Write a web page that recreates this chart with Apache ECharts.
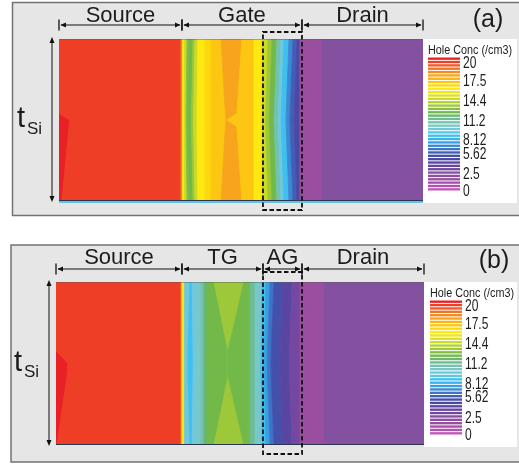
<!DOCTYPE html>
<html><head><meta charset="utf-8">
<script src="https://cdn.jsdelivr.net/npm/echarts@6/dist/echarts.min.js"></script>
<style>html,body{margin:0;padding:0;background:#fff}#c{width:519px;height:464px}</style>
</head><body><div id="c"></div>
<script>
// ===== DATA =====
// contour levels (index into the colour scale, 0 = lowest, 39 = highest)
// vertical sample rows of the channel (1 = top surface, 0 = bottom)
const rowsA = [1, 0.54, 0.5, 0.46, 0];
const rowsB = [1, 0.58, 0.5, 0.42, 0];

// panel (a): level of each contour band, left to right
const levelsA = [39, 38, 35, 30, 27, 24, 23, 25, 27, 30, 31, 32, 34, 32, 30, 27, 25, 23, 20, 18, 16, 13, 11, 9, 3, 5];
// panel (a): right boundary (nm) of each band at each row
const boundsA = [
  [0, 0, 1.81, 1.65, 0.49],
  [20.11, 20.11, 20.11, 20.11, 20.11],
  [20.36, 20.36, 20.36, 20.36, 20.36],
  [20.69, 20.69, 20.69, 20.69, 20.69],
  [21.10, 20.95, 20.95, 20.95, 21.10],
  [21.43, 21.18, 21.18, 21.18, 21.43],
  [22.09, 21.84, 21.84, 21.84, 22.09],
  [22.42, 22.20, 22.20, 22.20, 22.42],
  [22.91, 22.75, 22.75, 22.75, 22.91],
  [24.06, 24.06, 24.06, 24.06, 24.06],
  [25.05, 25.05, 25.05, 25.05, 25.05],
  [26.70, 27.44, 27.53, 27.44, 26.70],
  [30.15, 29.33, 27.69, 29.33, 30.15],
  [32.14, 32.14, 32.14, 32.14, 32.14],
  [33.46, 33.46, 33.46, 33.46, 33.46],
  [34.45, 34.10, 34.00, 34.10, 34.45],
  [35.11, 34.70, 34.62, 34.70, 35.11],
  [35.93, 35.50, 35.44, 35.50, 35.93],
  [36.59, 36.15, 36.10, 36.15, 36.59],
  [37.09, 36.65, 36.60, 36.65, 37.09],
  [37.91, 37.45, 37.42, 37.45, 37.91],
  [38.57, 38.10, 38.08, 38.10, 38.57],
  [39.23, 38.80, 38.74, 38.80, 39.23],
  [39.72, 39.72, 39.72, 39.72, 39.72],
  [43.35, 43.35, 43.35, 43.35, 43.35],
  [60, 60, 60, 60, 60]
];

// panel (b)
const levelsB = [39, 38, 35, 30, 18, 16, 18, 19, 20, 22, 23, 25, 23, 21, 19, 18, 16, 14, 12, 10, 8, 6, 3, 5];
const boundsB = [
  [0, 0, 1.96, 1.79, 0.16],
  [20.38, 20.38, 20.38, 20.38, 20.38],
  [20.54, 20.54, 20.54, 20.54, 20.54],
  [20.95, 20.95, 20.95, 20.95, 20.95],
  [21.85, 21.52, 21.52, 21.52, 21.85],
  [22.18, 22.34, 22.34, 22.34, 22.18],
  [22.99, 22.99, 22.99, 22.99, 22.99],
  [23.64, 23.64, 23.64, 23.64, 23.64],
  [24.13, 24.13, 24.13, 24.13, 24.13],
  [24.62, 24.62, 24.62, 24.62, 24.62],
  [25.76, 28.05, 28.05, 28.05, 25.76],
  [30.65, 28.05, 28.05, 28.05, 30.65],
  [31.63, 31.63, 31.63, 31.63, 31.63],
  [32.45, 32.45, 32.45, 32.45, 32.45],
  [33.26, 33.26, 33.26, 33.26, 33.26],
  [33.59, 33.40, 33.40, 33.40, 33.59],
  [34.24, 34.00, 34.00, 34.00, 34.24],
  [34.89, 34.50, 34.45, 34.50, 34.89],
  [35.54, 35.10, 35.05, 35.10, 35.54],
  [37.01, 36.55, 36.50, 36.55, 37.01],
  [38.48, 38.10, 38.05, 38.10, 38.48],
  [39.78, 39.78, 39.78, 39.78, 39.78],
  [43.70, 43.70, 43.70, 43.70, 43.70],
  [60, 60, 60, 60, 60]
];

// device regions (nm)
const regionNamesA = ['Source', 'Gate', 'Drain'];
const regionEdgesA = [0, 20.27, 40.05, 60];
const regionNamesB = ['Source', 'TG', 'AG', 'Drain'];
const regionEdgesB = [0, 20.54, 33.75, 40.11, 60];
const boxA = [33.62, 40.05];
const boxB = [33.75, 40.11];

// colour-bar stripes and labels
const legendLevels = [0,1,2,3,4,5,6,7,8,9,10,11,12,13,14,15,16,17,18,19,20,21,22,23,24,25,26,27,28,29,30,31,32,33,34,35,36,37,38,39];
const legendLabels = ['20', '17.5', '14.4', '11.2', '8.12', '5.62', '2.5', '0'];
const legendLabelPos = [37.9, 32.7, 26.8, 20.8, 15.0, 11.0, 4.8, -0.2];
const legendTitle = 'Hole Conc (/cm3)';

// ===== STYLE =====
const palette = ['#c058b8','#b252b0','#a650ac','#9a4e9f','#8e4ea2','#8450a0','#7448a0','#6646a0','#5846a2','#4c48a6',
  '#4450aa','#4060b6','#3e74c6','#3c88d4','#3a9ee2','#38b2ec','#3ec0f0','#5cc6e6','#70c8da','#78c8c8',
  '#72c2b0','#6cbc94','#68b670','#72b94a','#84c040','#9cc83a','#b4d030','#ccda26','#dce020','#eee61a',
  '#fde910','#fed80c','#fcc612','#fab418','#f8a41c','#f48c22','#f27228','#f05a2a','#ee3e26','#ea2027'];
const FONT = '"Liberation Sans", Arial, sans-serif';

function bandData(levels, bounds) {
  return levels.map((lv, i) => [lv].concat(i ? bounds[i - 1] : [0, 0, 0, 0, 0], bounds[i]));
}
function bandRender(rows) {
  return function (params, api) {
    const pts = [];
    for (let k = 0; k < 5; k++) pts.push(api.coord([api.value(6 + k), rows[k]]));
    for (let k = 4; k >= 0; k--) pts.push(api.coord([api.value(1 + k), rows[k]]));
    const c = palette[api.value(0)];
    return { type: 'polygon', shape: { points: pts }, style: { fill: c, stroke: c, lineWidth: 0.8 } };
  };
}
function regionData(edges) {
  const d = [];
  for (let i = 0; i < edges.length - 1; i++) d.push([edges[i], edges[i + 1], i]);
  return d;
}
function regionRender(names, arrowGap, labelGap) {
  return function (params, api) {
    const a = api.coord([api.value(0), 1]);
    const b = api.coord([api.value(1), 1]);
    const y = a[1] - arrowGap, x0 = a[0], x1 = b[0];
    const st = { stroke: '#111', lineWidth: 1 };
    return {
      type: 'group', children: [
        { type: 'line', shape: { x1: x0 + 2, y1: y, x2: x1 - 2, y2: y }, style: st },
        { type: 'line', shape: { x1: x0, y1: y - 5.5, x2: x0, y2: y + 5.5 }, style: { stroke: '#111', lineWidth: 1.3 } },
        { type: 'line', shape: { x1: x1, y1: y - 5.5, x2: x1, y2: y + 5.5 }, style: { stroke: '#111', lineWidth: 1.3 } },
        { type: 'polygon', shape: { points: [[x0 + 1.5, y], [x0 + 7, y - 2.6], [x0 + 7, y + 2.6]] }, style: { fill: '#111' } },
        { type: 'polygon', shape: { points: [[x1 - 1.5, y], [x1 - 7, y - 2.6], [x1 - 7, y + 2.6]] }, style: { fill: '#111' } },
        { type: 'text', style: { text: names[api.value(2)], x: (x0 + x1) / 2, y: a[1] - labelGap, align: 'center', verticalAlign: 'middle', font: '22px ' + FONT, fill: '#1c1c1c' } }
      ]
    };
  };
}
function boxRender(above, below) {
  return function (params, api) {
    const p0 = api.coord([api.value(0), 1]);
    const p1 = api.coord([api.value(1), 0]);
    return { type: 'rect', shape: { x: p0[0], y: p0[1] - above, width: p1[0] - p0[0], height: p1[1] - p0[1] + above + below },
      style: { fill: 'none', stroke: '#111', lineWidth: 1.8, lineDash: [4.5, 2.5] }, z2: 50 };
  };
}
function sideRender(bottomColor) {
  return function (params, api) {
    const p0 = api.coord([0, 1]);
    const p1 = api.coord([0, 0]);
    const pr = api.coord([60, 0]);
    const x = p0[0] - 7;
    const y0 = p0[1] - 2, y1 = p1[1] + 1;
    const mid = (p0[1] + p1[1]) / 2;
    const kids = [
      { type: 'line', shape: { x1: x, y1: y0 + 2, x2: x, y2: y1 - 2 }, style: { stroke: '#111', lineWidth: 1 } },
      { type: 'polygon', shape: { points: [[x, y0], [x - 2.5, y0 + 6], [x + 2.5, y0 + 6]] }, style: { fill: '#111' } },
      { type: 'polygon', shape: { points: [[x, y1], [x - 2.5, y1 - 6], [x + 2.5, y1 - 6]] }, style: { fill: '#111' } },
      { type: 'text', style: { text: 't', x: p0[0] - 42, y: mid - 1, align: 'left', verticalAlign: 'middle', font: '29px ' + FONT, fill: '#1c1c1c' } },
      { type: 'text', style: { text: 'Si', x: p0[0] - 32, y: mid + 9, align: 'left', verticalAlign: 'middle', font: '17px ' + FONT, fill: '#1c1c1c' } },
      { type: 'line', shape: { x1: p0[0], y1: p0[1] + 0.5, x2: pr[0], y2: p0[1] + 0.5 }, style: { stroke: 'rgba(90,90,90,0.45)', lineWidth: 1 } },
      { type: 'line', shape: { x1: p0[0], y1: p1[1] - 0.5, x2: pr[0], y2: p1[1] - 0.5 }, style: { stroke: '#2a3550', lineWidth: 1 } }
    ];
    if (bottomColor) kids.push({ type: 'line', shape: { x1: p0[0], y1: p1[1] + 1, x2: pr[0], y2: p1[1] + 1 }, style: { stroke: bottomColor, lineWidth: 1.6 } });
    return { type: 'group', children: kids };
  };
}
function stripeRender(params, api) {
  const lv = api.value(0);
  const a = api.coord([0, lv + 1]);
  const b = api.coord([1, lv]);
  return { type: 'rect', shape: { x: a[0], y: a[1] + 0.5, width: b[0] - a[0], height: b[1] - a[1] - 1 }, style: { fill: palette[lv] } };
}
function labelRender(params, api) {
  const p = api.coord([1, api.value(0)]);
  return { type: 'text', x: p[0] + 3, y: p[1], scaleX: 0.75,
    style: { text: legendLabels[api.value(1)], x: 0, y: 0, align: 'left', verticalAlign: 'middle', font: '16px ' + FONT, fill: '#1c1c1c' } };
}
function legendTitleRender(params, api) {
  const p = api.coord([0, 40]);
  return { type: 'text', x: p[0], y: p[1] - 7, scaleX: 0.8,
    style: { text: legendTitle, x: 0, y: 0, align: 'left', verticalAlign: 'middle', font: '13.5px ' + FONT, fill: '#1c1c1c' } };
}

const chart = echarts.init(document.getElementById('c'), null, { width: 519, height: 464, renderer: 'canvas' });
const ax = (idx, min, max) => ({ type: 'value', gridIndex: idx, min, max, show: false });
const labelData = legendLabelPos.map((p, i) => [p, i]);

chart.setOption({
  animation: false,
  backgroundColor: '#fff',
  grid: [
    { left: 59, top: 39, width: 364, height: 162 },
    { left: 428, top: 57, width: 32, height: 134 },
    { left: 56, top: 282, width: 368, height: 163 },
    { left: 430, top: 300, width: 32, height: 135 }
  ],
  xAxis: [ax(0, 0, 60), ax(1, 0, 1), ax(2, 0, 60), ax(3, 0, 1)],
  yAxis: [ax(0, 0, 1), ax(1, 0, 40), ax(2, 0, 1), ax(3, 0, 40)],
  graphic: [
    { type: 'rect', z: 0, shape: { x: 12.5, y: 2.5, width: 520, height: 213 }, style: { fill: '#e6e6e6', stroke: '#737373', lineWidth: 1.5 } },
    { type: 'rect', z: 0, shape: { x: 11, y: 245, width: 520, height: 217 }, style: { fill: '#e6e6e6', stroke: '#737373', lineWidth: 1.5 } },
    { type: 'rect', z: 1, shape: { x: 423, y: 39, width: 94, height: 164 }, style: { fill: '#fff' } },
    { type: 'rect', z: 1, shape: { x: 424, y: 282, width: 93, height: 165 }, style: { fill: '#fff' } },
    { type: 'text', z: 100, style: { text: '(a)', x: 488, y: 20, align: 'center', verticalAlign: 'middle', font: '25px ' + FONT, fill: '#1c1c1c' } },
    { type: 'text', z: 100, style: { text: '(b)', x: 494, y: 261, align: 'center', verticalAlign: 'middle', font: '25px ' + FONT, fill: '#1c1c1c' } }
  ],
  series: [
    { type: 'custom', xAxisIndex: 0, yAxisIndex: 0, data: bandData(levelsA, boundsA), renderItem: bandRender(rowsA), clip: true, silent: true },
    { type: 'custom', xAxisIndex: 0, yAxisIndex: 0, data: regionData(regionEdgesA), renderItem: regionRender(regionNamesA, 14, 23), clip: false, silent: true, z: 5 },
    { type: 'custom', xAxisIndex: 0, yAxisIndex: 0, data: [[0]], renderItem: sideRender('#3ab6e6'), clip: false, silent: true, z: 4 },
    { type: 'custom', xAxisIndex: 0, yAxisIndex: 0, data: [boxA], renderItem: boxRender(7, 9), clip: false, silent: true, z: 6 },
    { type: 'custom', xAxisIndex: 1, yAxisIndex: 1, data: legendLevels.map(v => [v]), renderItem: stripeRender, clip: false, silent: true },
    { type: 'custom', xAxisIndex: 1, yAxisIndex: 1, data: labelData, renderItem: labelRender, clip: false, silent: true },
    { type: 'custom', xAxisIndex: 1, yAxisIndex: 1, data: [[0]], renderItem: legendTitleRender, clip: false, silent: true },

    { type: 'custom', xAxisIndex: 2, yAxisIndex: 2, data: bandData(levelsB, boundsB), renderItem: bandRender(rowsB), clip: true, silent: true },
    { type: 'custom', xAxisIndex: 2, yAxisIndex: 2, data: regionData(regionEdgesB), renderItem: regionRender(regionNamesB, 13, 24), clip: false, silent: true, z: 5 },
    { type: 'custom', xAxisIndex: 2, yAxisIndex: 2, data: [[0]], renderItem: sideRender(null), clip: false, silent: true, z: 4 },
    { type: 'custom', xAxisIndex: 2, yAxisIndex: 2, data: [boxB], renderItem: boxRender(10, 9), clip: false, silent: true, z: 6 },
    { type: 'custom', xAxisIndex: 3, yAxisIndex: 3, data: legendLevels.map(v => [v]), renderItem: stripeRender, clip: false, silent: true },
    { type: 'custom', xAxisIndex: 3, yAxisIndex: 3, data: labelData, renderItem: labelRender, clip: false, silent: true },
    { type: 'custom', xAxisIndex: 3, yAxisIndex: 3, data: [[0]], renderItem: legendTitleRender, clip: false, silent: true }
  ]
});
</script>
</body></html>
